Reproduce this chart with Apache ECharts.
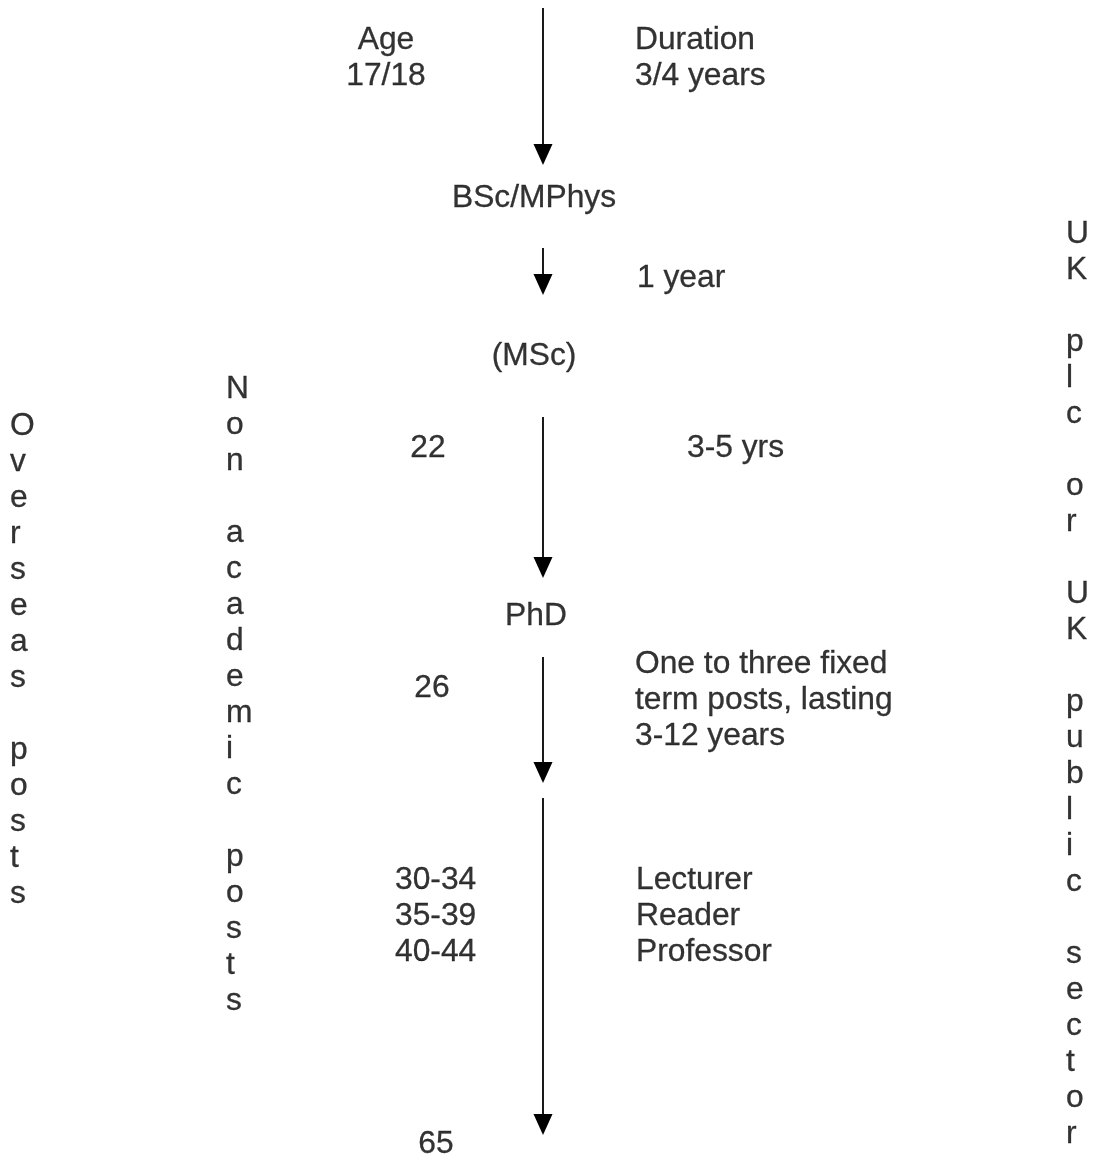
<!DOCTYPE html>
<html><head><meta charset="utf-8">
<script src="https://cdn.jsdelivr.net/npm/echarts@6/dist/echarts.min.js"></script>
<style>html,body{margin:0;padding:0;background:#fff}#c{width:1094px;height:1162px}</style>
</head><body><div id="c"></div>
<script>
// Diagram coordinate space: x 0..1094, y 0..1162 (top to bottom)
// Stage labels on the main timeline (centred): [text, x, y]
const stageLabels = [
  ['BSc/MPhys', 534, 198],
  ['(MSc)', 534, 356],
  ['PhD', 536, 616]
];
// Ages (centred)
const ageLabels = [
  ['Age\n17/18', 386, 58],
  ['22', 428, 448],
  ['26', 432, 688],
  ['65', 436, 1144]
];
// Age ranges (left aligned)
const ageRanges = [
  ['30-34\n35-39\n40-44', 395, 916]
];
// Durations / posts (left aligned)
const durationLabels = [
  ['Duration\n3/4 years', 635, 58],
  ['1 year', 637, 278],
  ['3-5 yrs', 687, 448],
  ['One to three fixed\nterm posts, lasting\n3-12 years', 635, 700],
  ['Lecturer\nReader\nProfessor', 636, 916]
];
// Vertical side labels (one character per line): [text, x, yTop]
const sideLabels = [
  ['Overseas posts', 10, 408],
  ['Non academic posts', 226, 371],
  ['UK plc or UK public sector', 1066, 216]
];
// Arrows: [x, yStart, yTip]
const arrows = [
  [543, 8, 165],
  [543, 248, 295],
  [543, 417, 578],
  [543, 657, 783],
  [543, 798, 1135]
];

const FONT = 'Liberation Sans, Arial, sans-serif';
function textSeries(items, align, vAlign) {
  return {
    type: 'scatter', silent: true, symbolSize: 1, itemStyle: {color: 'rgba(255,255,255,0)'},
    animation: false, emphasis: {disabled: true},
    data: items.map(d => ({name: d[0], value: [d[1], d[2]]})),
    label: {
      show: true, position: 'inside', formatter: '{b}', align: align, verticalAlign: vAlign,
      color: '#000', textBorderColor: '#000', textBorderWidth: 0.3,
      fontFamily: FONT, fontSize: 31.75, lineHeight: 36
    }
  };
}
const verticalItems = sideLabels.map(d => [d[0].split('').join('\n'), d[1], d[2]]);

const chart = echarts.init(document.getElementById('c'), null, {renderer: 'canvas'});
chart.setOption({
  backgroundColor: '#fff',
  animation: false,
  grid: {left: 0, right: 0, top: 0, bottom: 0},
  xAxis: {type: 'value', min: 0, max: 1094, show: false},
  yAxis: {type: 'value', min: 0, max: 1162, inverse: true, show: false},
  series: [
    {
      type: 'custom', silent: true, animation: false,
      data: arrows,
      encode: {x: 0, y: [1, 2]},
      renderItem: function (params, api) {
        const x = api.value(0), y1 = api.value(1), y2 = api.value(2);
        const p1 = api.coord([x, y1]), p2 = api.coord([x, y2]);
        const hw = 9.5, hh = 21;
        return {
          type: 'group',
          children: [
            {type: 'line', shape: {x1: p1[0], y1: p1[1], x2: p2[0], y2: p2[1] - hh + 1},
             style: {stroke: '#000', lineWidth: 1.8}},
            {type: 'polygon', shape: {points: [[p2[0] - hw, p2[1] - hh], [p2[0] + hw, p2[1] - hh], [p2[0], p2[1]]]},
             style: {fill: '#000'}}
          ]
        };
      }
    },
    textSeries(stageLabels, 'center', 'middle'),
    textSeries(ageLabels, 'center', 'middle'),
    textSeries(ageRanges, 'left', 'middle'),
    textSeries(durationLabels, 'left', 'middle'),
    textSeries(verticalItems, 'left', 'top')
  ]
});
</script></body></html>
